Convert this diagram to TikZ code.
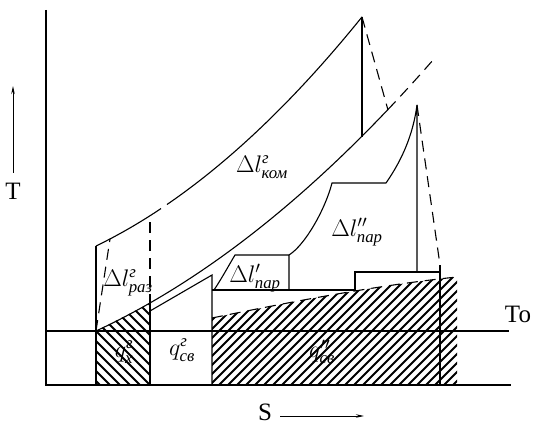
\documentclass[tikz,border=0pt]{standalone}
\usepackage{fix-cm}
\usepackage{amsmath}
\usepackage{fontspec}
\setmainfont{Liberation Serif}
\usetikzlibrary{arrows.meta}
\begin{document}
\begin{tikzpicture}[x=1pt,y=-1pt,line width=1.1pt,
  dsh/.style={dash pattern=on 11pt off 7pt},
  hatchline/.style={line width=2pt},
  lbl/.style={font=\fontsize{24}{28}\selectfont,inner sep=0pt},
  axlbl/.style={font=\fontsize{25}{29}\selectfont,inner sep=0pt},
  axarrow/.style={line width=0.8pt,-{Stealth[length=8pt,width=3.5pt]}}]
\useasboundingbox (0,0) rectangle (533,425);
% key points
\coordinate (ytop) at (46,10);
\coordinate (orig) at (46,385);
\coordinate (xend) at (511,385);
\coordinate (toL) at (46,331);
\coordinate (toR) at (509,331);
% hatched regions
\begin{scope}
  \clip (96,331) -- (150,303) -- (150,385) -- (96,385) -- cycle;
  \foreach \a in {90,100,...,280} \draw[hatchline] (\a,395) -- ++(-130,-130);
\end{scope}
\begin{scope}
  \clip (212,318) .. controls (300,300) and (380,285) .. (457,277) -- (457,385) -- (212,385) -- cycle;
  \foreach \a in {110,119,...,480} \draw[hatchline] (\a,395) -- ++(130,-130);
\end{scope}
\draw[dsh] (212,318) .. controls (300,300) and (380,285) .. (457,277);
% axes and base lines
\draw (ytop) -- (orig) -- (xend);
\draw (toL) -- (toR);
% upper curve (compression)
\draw plot[domain=96:161,samples=20] (\x,{246-0.4837*(\x-96)-0.001418*(\x-96)*(\x-96)});
\draw plot[domain=167:362,samples=50] (\x,{246-0.4837*(\x-96)-0.001418*(\x-96)*(\x-96)});
% lower curve
\draw plot[domain=96:388,samples=60] (\x,{331-0.4646*(\x-96)-0.001001*(\x-96)*(\x-96)});
\draw[dsh] plot[domain=388:432,samples=10] (\x,{331-0.4646*(\x-96)-0.001001*(\x-96)*(\x-96)});
% peak of compression
\draw (362,17) -- (362,136.6);
\draw[dsh] (362,17) -- (388,110);
% left part
\draw (96,246) -- (96,385);
\draw (150,303) -- (150,385);
\draw[dsh] (150,222) -- (150,303);
\draw[dsh] (96,331) -- (110,239);
% q_sv region
\draw (150,311) -- (212,275) -- (212,385);
% steam boxes
\draw (212,290) -- (355,290) -- (355,272) -- (440,272);
\draw (214,290) .. controls (222,278) and (229,265) .. (235,255) -- (289,255) -- (289,290);
\draw (289,255) .. controls (305,245) and (325,210) .. (332,183) -- (386,183)
      .. controls (402,160) and (413,135) .. (417,105) -- (417,272);
\draw[dsh] (417,105) -- (440,265);
\draw (440,265) -- (440,385);
% axis labels
\coordinate (tA) at (13,173);
\coordinate (tB) at (13,86);
\draw[axarrow] (tA) -- (tB);
\node[axlbl] (Tlab) at (13,191) {T};
\node[axlbl] (Slab) at (265,412) {S};
\coordinate (sA) at (280,416);
\coordinate (sB) at (364,416);
\draw[axarrow] (sA) -- (sB);
\node[axlbl] (Tolab) at (518,314) {To};
% region labels
\node[lbl] (lkom) at (262,167) {$\Delta l^{\text{\itshape г}}_{\text{\itshape ком}}$};
\node[lbl] (lpar2) at (357,232) {$\Delta l''_{\text{\itshape пар}}$};
\node[lbl] (lpar1) at (255,278) {$\Delta l'_{\text{\itshape пар}}$};
\node[lbl] (lraz) at (128,283) {$\Delta l^{\text{\itshape г}}_{\text{\itshape раз}}$};
\node[lbl] (qsv) at (182,350) {$q^{\text{\itshape г}}_{\text{\itshape св}}$};
\node[lbl] (qx) at (124,352) {$q^{\text{\itshape г}}_{\text{\itshape х}}$};
\node[lbl] (qsv2) at (322,352) {$q''_{\text{\itshape св}}$};
\end{tikzpicture}
\end{document}
